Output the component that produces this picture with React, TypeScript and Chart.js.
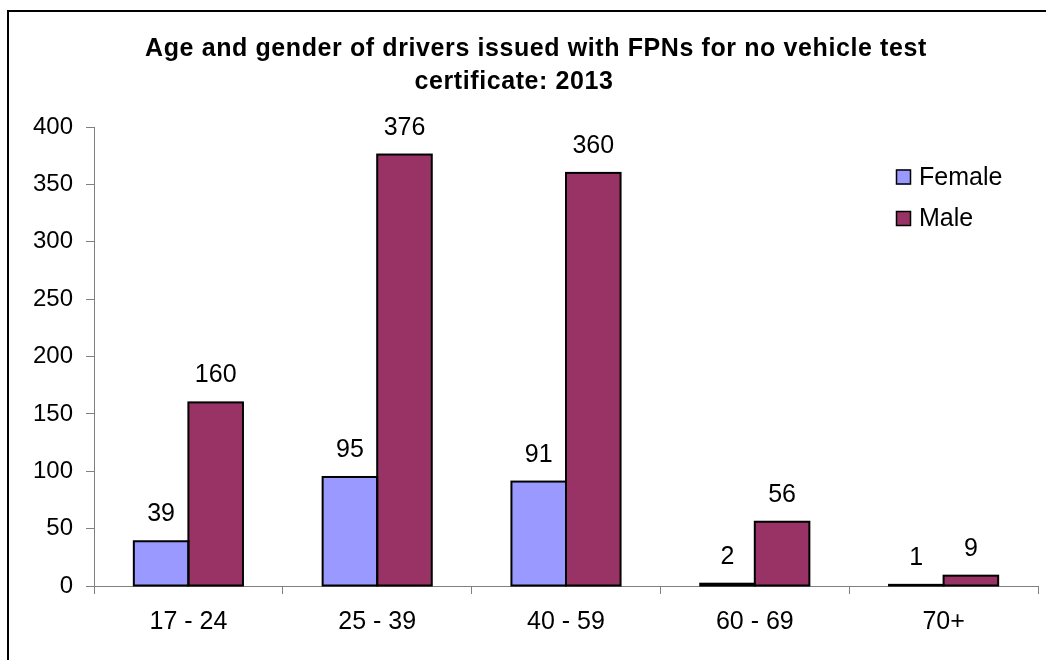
import React, { useEffect, useRef } from 'react';
import { Chart, registerables } from 'chart.js';

Chart.register(...registerables);

const categories = ['17 - 24', '25 - 39', '40 - 59', '60 - 69', '70+'];
const femaleValues = [39, 95, 91, 2, 1];
const maleValues = [160, 376, 360, 56, 9];
const seriesNames = ['Female', 'Male'];
const seriesColors = ['#9999FF', '#993366'];
const titleLines = ['Age and gender of drivers issued with FPNs for no vehicle test', 'certificate: 2013'];
const yMin = 0;
const yMax = 400;
const yStep = 50;

const FONT = '"Liberation Sans", Arial, Helvetica, sans-serif';

const titlePlugin = {
  id: 'customTitle',
  afterDraw(chart: any) {
    const ctx = chart.ctx;
    ctx.save();
    ctx.fillStyle = '#000';
    ctx.font = `bold 25px ${FONT}`;
    try { (ctx as any).letterSpacing = '0.6px'; } catch (e) {}
    ctx.textAlign = 'center';
    ctx.textBaseline = 'alphabetic';
    ctx.fillText(titleLines[0], 536, 56);
    ctx.fillText(titleLines[1], 514, 89);
    ctx.restore();
  },
};

const outlinePlugin = {
  id: 'barOutlines',
  afterDatasetsDraw(chart: any) {
    const ctx = chart.ctx;
    ctx.save();
    ctx.strokeStyle = '#000';
    ctx.lineWidth = 2;
    chart.data.datasets.forEach((_ds: any, i: number) => {
      const meta = chart.getDatasetMeta(i);
      meta.data.forEach((el: any) => {
        const p = el.getProps(['x', 'y', 'base', 'width'], true);
        const left = p.x - p.width / 2;
        const top = Math.min(p.y, p.base);
        const h = Math.abs(p.base - p.y);
        ctx.strokeRect(left, top, p.width, h);
      });
    });
    ctx.restore();
  },
};

const dataLabelPlugin = {
  id: 'dataLabels',
  afterDatasetsDraw(chart: any) {
    const ctx = chart.ctx;
    ctx.save();
    ctx.fillStyle = '#000';
    ctx.font = `25px ${FONT}`;
    ctx.textAlign = 'center';
    ctx.textBaseline = 'alphabetic';
    chart.data.datasets.forEach((ds: any, i: number) => {
      const meta = chart.getDatasetMeta(i);
      meta.data.forEach((el: any, j: number) => {
        ctx.fillText(String(ds.data[j]), el.x, el.y - 20);
      });
    });
    ctx.restore();
  },
};

const legendPlugin = {
  id: 'customLegend',
  afterDraw(chart: any) {
    const ctx = chart.ctx;
    ctx.save();
    ctx.font = `25px ${FONT}`;
    ctx.textBaseline = 'middle';
    ctx.textAlign = 'left';
    seriesNames.forEach((name, i) => {
      const y = 177 + i * 41.5;
      ctx.fillStyle = seriesColors[i];
      ctx.fillRect(896, y - 7.5, 15, 15);
      ctx.strokeStyle = '#000';
      ctx.lineWidth = 1.5;
      ctx.strokeRect(896.5, y - 7, 14, 14);
      ctx.fillStyle = '#000';
      ctx.fillText(name, 919, y + 1);
    });
    ctx.restore();
  },
};

export default function App() {
  const canvasRef = useRef<HTMLCanvasElement>(null);

  useEffect(() => {
    if (!canvasRef.current) return;
    const chart = new Chart(canvasRef.current, {
      type: 'bar',
      data: {
        labels: categories,
        datasets: [
          {
            label: seriesNames[0],
            data: femaleValues,
            backgroundColor: seriesColors[0],
            borderWidth: 0,
            categoryPercentage: 0.578,
            barPercentage: 1,
          },
          {
            label: seriesNames[1],
            data: maleValues,
            backgroundColor: seriesColors[1],
            borderWidth: 0,
            categoryPercentage: 0.578,
            barPercentage: 1,
          },
        ],
      },
      options: {
        responsive: false,
        animation: false,
        devicePixelRatio: 1,
        layout: { padding: { top: 127, right: 8, bottom: 0, left: 0 } },
        plugins: {
          legend: { display: false },
          title: { display: false },
          tooltip: { enabled: false },
        },
        scales: {
          x: {
            offset: true,
            grid: {
              offset: true,
              drawOnChartArea: false,
              drawTicks: true,
              tickLength: 8,
              color: '#808080',
            },
            border: { color: '#808080', width: 1 },
            ticks: {
              color: '#000',
              font: { family: FONT, size: 25 },
              padding: 13,
              maxRotation: 0,
            },
            afterFit: (s: any) => {
              s.height = 74;
            },
          },
          y: {
            min: yMin,
            max: yMax,
            grid: {
              drawOnChartArea: false,
              drawTicks: true,
              tickLength: 8,
              color: '#808080',
            },
            border: { color: '#808080', width: 1 },
            ticks: {
              stepSize: yStep,
              color: '#000',
              font: { family: FONT, size: 24 },
              padding: 13,
            },
            afterFit: (s: any) => {
              s.width = 94;
            },
          },
        },
      },
      plugins: [titlePlugin, outlinePlugin, dataLabelPlugin, legendPlugin],
    });
    return () => chart.destroy();
  }, []);

  return (
    <>
      <div
        style={{
          position: 'fixed',
          left: 7,
          top: 10,
          width: 1100,
          height: 700,
          border: '2px solid #000',
          background: '#fff',
        }}
      />
      <canvas
        ref={canvasRef}
        width={1046}
        height={660}
        style={{ position: 'fixed', left: 0, top: 0, width: 1046, height: 660 }}
      />
    </>
  );
}
